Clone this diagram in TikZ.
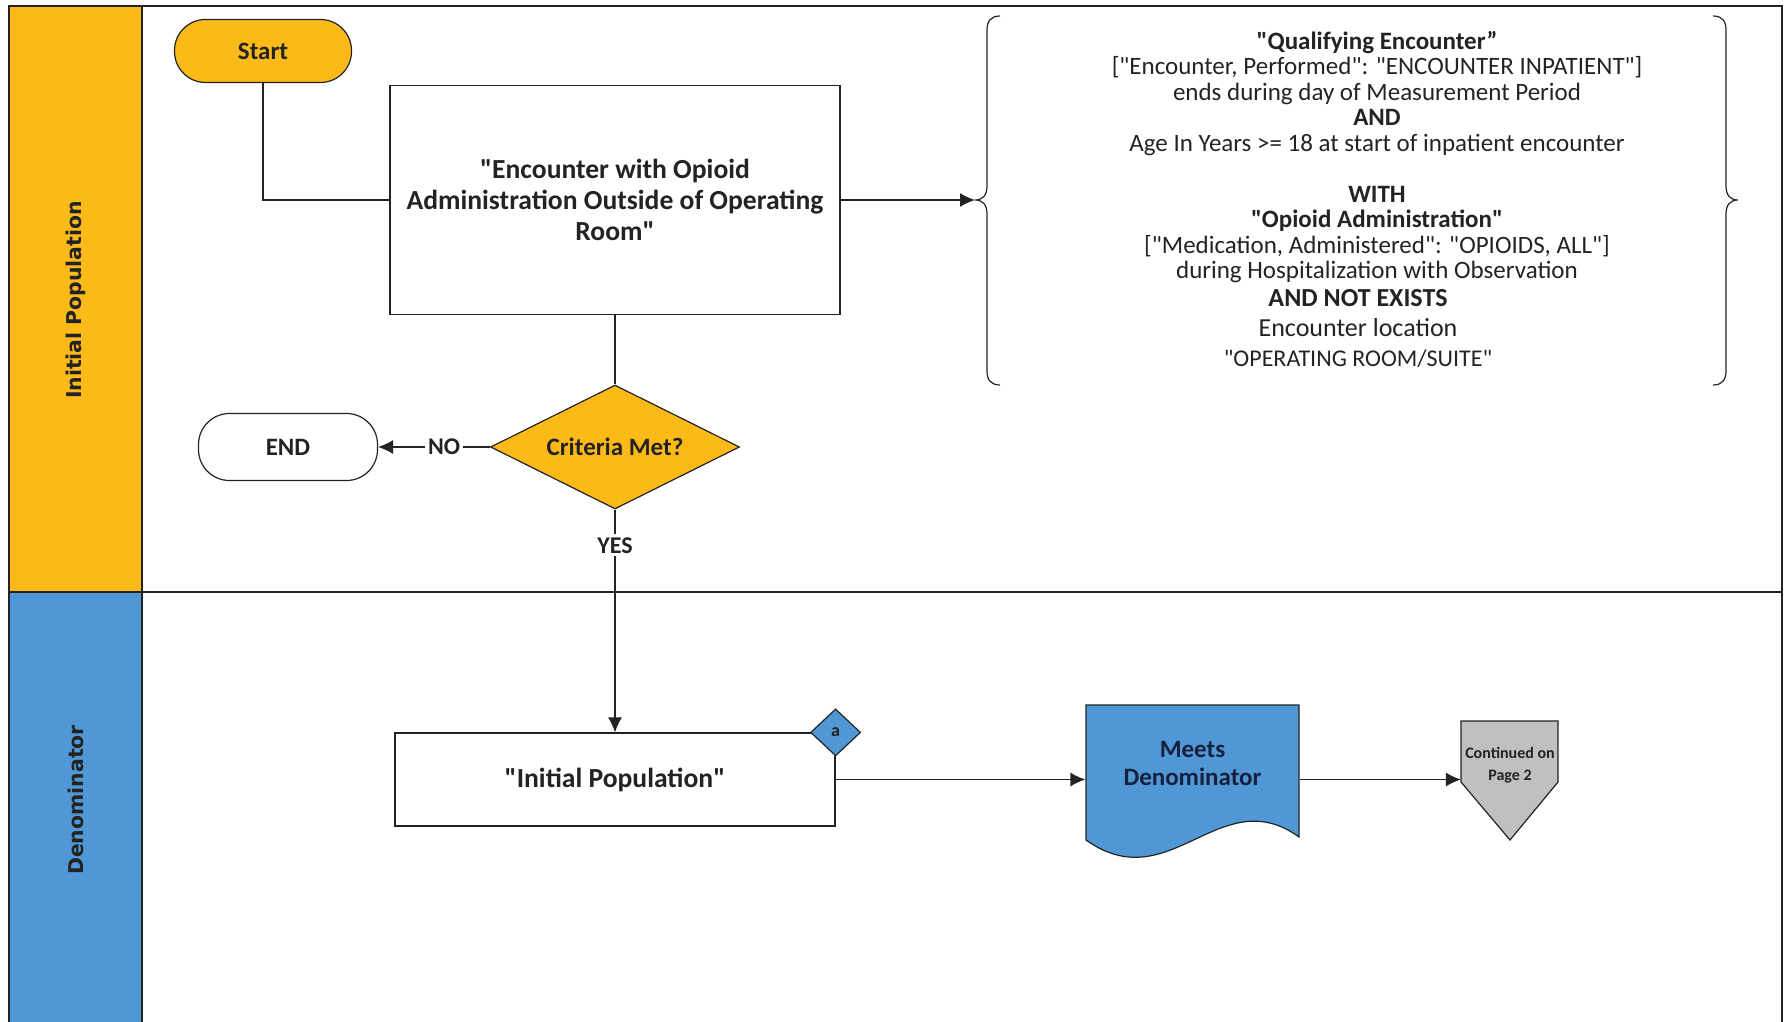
\documentclass[tikz,border=0pt]{standalone}
\usepackage{fontspec}
\setmainfont{Carlito}[Ligatures=TeXOff]
\newfontfamily\lanefont{DejaVu Sans}
\usetikzlibrary{arrows.meta,shapes.geometric}
\definecolor{ipgold}{RGB}{252,186,24}
\definecolor{denblue}{RGB}{79,152,213}
\definecolor{pagegray}{RGB}{192,192,192}
\definecolor{inkgray}{RGB}{35,35,35}
\definecolor{navyink}{RGB}{22,32,60}
\tikzset{
    lane/.style={rotate=90, text=inkgray, font=\lanefont\bfseries\fontsize{10.2pt}{12pt}\selectfont},
    terminal/.style={draw=inkgray, rounded corners=15.5pt, text=inkgray, font=\bfseries\fontsize{12.5pt}{15pt}\selectfont},
    procbox/.style={draw=inkgray, fill=white, align=center, text=inkgray, font=\bfseries\fontsize{13.8pt}{15.5pt}\selectfont},
    decision/.style={diamond, draw=inkgray, fill=ipgold, aspect=2, inner sep=0pt, text=inkgray, font=\bfseries\fontsize{12.5pt}{15pt}\selectfont},
    bracetext/.style={align=center, text=inkgray, inner sep=0pt, font=\fontsize{12.5pt}{12.75pt}\selectfont},
    flowlabel/.style={fill=white, inner sep=1.5pt, text=inkgray, font=\bfseries\fontsize{12pt}{14pt}\selectfont}
}
\begin{document}
\begin{tikzpicture}[x=0.5pt, y=-0.5pt, line width=0.6pt, >={Latex[length=7.5pt,width=7pt]}]
    \useasboundingbox (0,0) rectangle (1788,1022);
    % swimlanes
    \fill[ipgold] (9,6) rectangle (142,592);
    \fill[denblue] (9,592) rectangle (142,1022);
    \draw[line width=0.7pt, inkgray] (9,1022) -- (9,6) -- (1782,6) -- (1782,1022);
    \draw[line width=0.7pt, inkgray] (142,6) -- (142,1022);
    \draw[line width=0.7pt, inkgray] (9,592) -- (1782,592);
    \node[lane] (ipl) at (76,300) {Initial Population};
    \node[lane] (denl) at (76,800) {Denominator};

    % initial population lane
    \node[terminal, fill=ipgold, minimum width=88.5pt, minimum height=31.5pt] (start) at (263,51) {Start};
    \node[procbox, minimum width=225pt, minimum height=114.5pt] (enc) at (615,200) {"Encounter with Opioid\\Administration Outside of Operating\\Room"};
    \node[decision, minimum width=124.5pt, minimum height=62pt] (crit) at (615,447) {Criteria Met?};
    \node[terminal, fill=white, minimum width=89.5pt, minimum height=33.5pt] (end) at (288,447) {END};

    % braces round the criteria
    \draw[inkgray] (1000,16) .. controls (991,16) and (987,21) .. (987,30) -- (987,186)
        .. controls (987,195) and (983,200) .. (975,200) .. controls (983,200) and (987,205) .. (987,214)
        -- (987,371) .. controls (987,380) and (991,385) .. (1000,385);
    \draw[inkgray] (1713,16) .. controls (1722,16) and (1726,21) .. (1726,30) -- (1726,186)
        .. controls (1726,195) and (1730,200) .. (1738,200) .. controls (1730,200) and (1726,205) .. (1726,214)
        -- (1726,371) .. controls (1726,380) and (1722,385) .. (1713,385);
    \coordinate (bracetip) at (975,200);
    \node[bracetext] (qual) at (1377,157) {\textbf{"Qualifying Encounter”}\\{[}"Encounter, Performed": "ENCOUNTER INPATIENT"{]}\\ends during day of Measurement Period\\\textbf{AND}\\Age In Years >= 18 at start of inpatient encounter\\[12.75pt]\textbf{WITH}\\\textbf{"Opioid Administration"}\\{[}"Medication, Administered": "OPIOIDS, ALL"{]}\\during Hospitalization with Observation};
    \node[bracetext, font=\fontsize{13pt}{15pt}\selectfont] (notex) at (1358,328) {\textbf{AND NOT EXISTS}\\Encounter location\\{\fontsize{12pt}{14pt}\selectfont"OPERATING ROOM/SUITE"}};

    % denominator lane
    \node[procbox, minimum width=220pt, minimum height=46.5pt] (ip) at (615,779.5) {"Initial Population"};
    \node[diamond, draw=inkgray, fill=denblue, minimum width=25pt, minimum height=23.5pt, inner sep=0pt, text=inkgray, font=\bfseries\fontsize{9pt}{10pt}\selectfont] (refa) at (ip.north east) {a};
    \filldraw[fill=denblue, draw=inkgray] (1086,705) -- (1299,705) -- (1299,837) .. controls (1220,780) and (1170,900) .. (1086,840) -- cycle;
    \node[align=center, text=navyink, minimum width=106.5pt, inner sep=0pt, font=\bfseries\fontsize{12.5pt}{14pt}\selectfont] (meets) at (1192.5,763) {Meets\\Denominator};
    \filldraw[fill=pagegray, draw=inkgray] (1461,721) -- (1558,721) -- (1558,782) -- (1510,840) -- (1461,782) -- cycle;
    \node[align=center, text=inkgray, minimum width=48.5pt, inner sep=0pt, font=\bfseries\fontsize{8pt}{11pt}\selectfont] (cont) at (1510,765) {Continued on\\Page 2};

    % connectors
    \draw[inkgray] (start.south) |- (enc.west);
    \draw[->, inkgray] (enc.east) -- (bracetip);
    \draw[inkgray] (enc.south) -- (crit.north);
    \draw[->, inkgray] (crit.west) -- node[flowlabel, pos=0.41] (nolbl) {NO} (end.east);
    \draw[->, inkgray] (crit.south) -- node[flowlabel, pos=0.16] (yeslbl) {YES} (ip.north);
    \draw[->, inkgray] (ip.east) -- (ip.east -| meets.west);
    \draw[->, inkgray] (ip.east -| meets.east) -- (ip.east -| cont.west);
\end{tikzpicture}
\end{document}
